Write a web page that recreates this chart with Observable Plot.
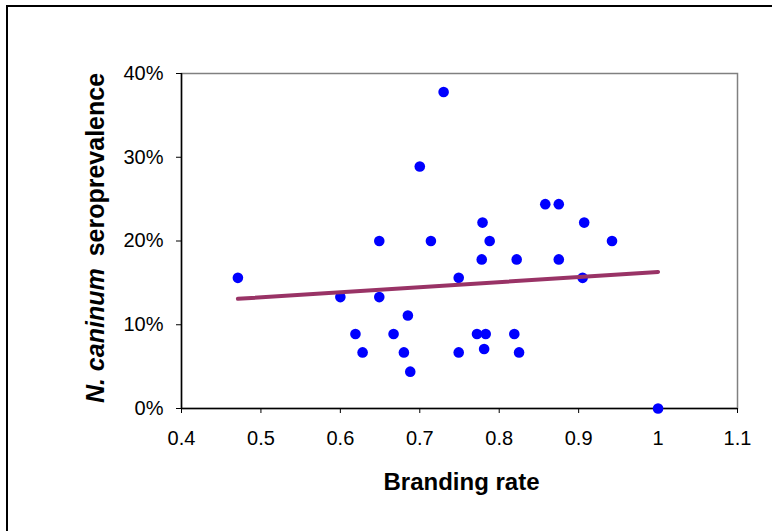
<!DOCTYPE html>
<html><head><meta charset="utf-8">
<script src="https://cdn.jsdelivr.net/npm/d3@7"></script>
<script src="https://cdn.jsdelivr.net/npm/@observablehq/plot@0.6"></script>
<style>
html,body{margin:0;padding:0;background:#fff;}
#wrap{position:relative;width:776px;height:531px;overflow:hidden;}
#wrap svg{position:absolute;left:0;top:0;}
#border{position:absolute;left:6px;top:5px;width:766px;height:600px;border-top:2px solid #000;border-left:2px solid #000;box-sizing:border-box;}
#wrap svg g[aria-label$="tick label"], #wrap svg g[aria-label$="tick label"] text{font-size:20px !important;}
</style></head><body><div id="wrap"><div id="border"></div></div>
<script>
const brandingRate = [0.471,0.600,0.649,0.649,0.714,0.749,0.685,0.619,0.667,0.628,0.680,0.688,0.749,0.730,0.700,0.858,0.875,0.779,0.907,0.788,0.942,0.778,0.822,0.875,0.905,0.772,0.783,0.819,0.781,0.825,1.000];
const seroprevalence = [15.6,13.3,13.3,20.0,20.0,15.6,11.1,8.9,8.9,6.7,6.7,4.4,6.7,37.8,28.9,24.4,24.4,22.2,22.2,20.0,20.0,17.8,17.8,17.8,15.6,8.9,8.9,8.9,7.1,6.7,0.0];
const trendX = [0.471, 1.0];
const trendY = [13.1, 16.3];
const xTicks = [0.4,0.5,0.6,0.7,0.8,0.9,1,1.1];
const yTicks = [0,10,20,30,40];
const xLabel = "Branding rate";
const yLabelItalic = "N. caninum";
const yLabelRest = "seroprevalence";

const points = brandingRate.map((x,i)=>({x, y: seroprevalence[i]}));
const trend = trendX.map((x,i)=>({x, y: trendY[i]}));

const chart = Plot.plot({
  width: 776, height: 531,
  marginLeft: 181, marginRight: 39, marginTop: 73, marginBottom: 123,
  style: {fontFamily: "'Liberation Sans', Arial, sans-serif", fontSize: "20px", background: "transparent", color: "#000"},
  x: {domain: [0.4, 1.1]},
  y: {domain: [0, 40]},
  marks: [
    Plot.frame({stroke: "#808080", strokeWidth: 1.5}),
    Plot.axisX({ticks: xTicks, tickFormat: d => String(d), tickSize: 5, tickPadding: 17, label: null, stroke: "#000", fontSize: 20}),
    Plot.axisY({ticks: yTicks, tickFormat: d => d + "%", tickSize: 5, tickPadding: 13, label: null, stroke: "#000", fontSize: 20}),
    Plot.ruleX([0.4], {stroke: "#000", strokeWidth: 1.5}),
    Plot.ruleY([0], {stroke: "#000", strokeWidth: 1.5}),
    Plot.dot(points, {x: "x", y: "y", r: 5.3, fill: "#0000FF", stroke: "none"}),
    Plot.line(trend, {x: "x", y: "y", stroke: "#993366", strokeWidth: 4, strokeLinecap: "round"}),
    Plot.text([xLabel], {frameAnchor: "bottom", textAnchor: "middle", lineAnchor: "top", dx: 2, dy: 64, fontWeight: "bold", fontSize: 24}),
    Plot.text([yLabelItalic + " " + yLabelRest], {frameAnchor: "left", textAnchor: "middle", rotate: -90, dx: -86, dy: -3, lineAnchor: "middle", fontWeight: "bold", fontSize: 25})
  ]
});
document.getElementById("wrap").insertBefore(chart, document.getElementById("border"));

d3.select(chart).selectAll("text").filter(function(){ return this.textContent === yLabelItalic + " " + yLabelRest; })
  .each(function(){
    const t = d3.select(this);
    t.text(null);
    t.append("tspan").attr("font-style", "italic").text(yLabelItalic);
    t.append("tspan").attr("dx", 12).text(yLabelRest);
  });
</script>
</body></html>
